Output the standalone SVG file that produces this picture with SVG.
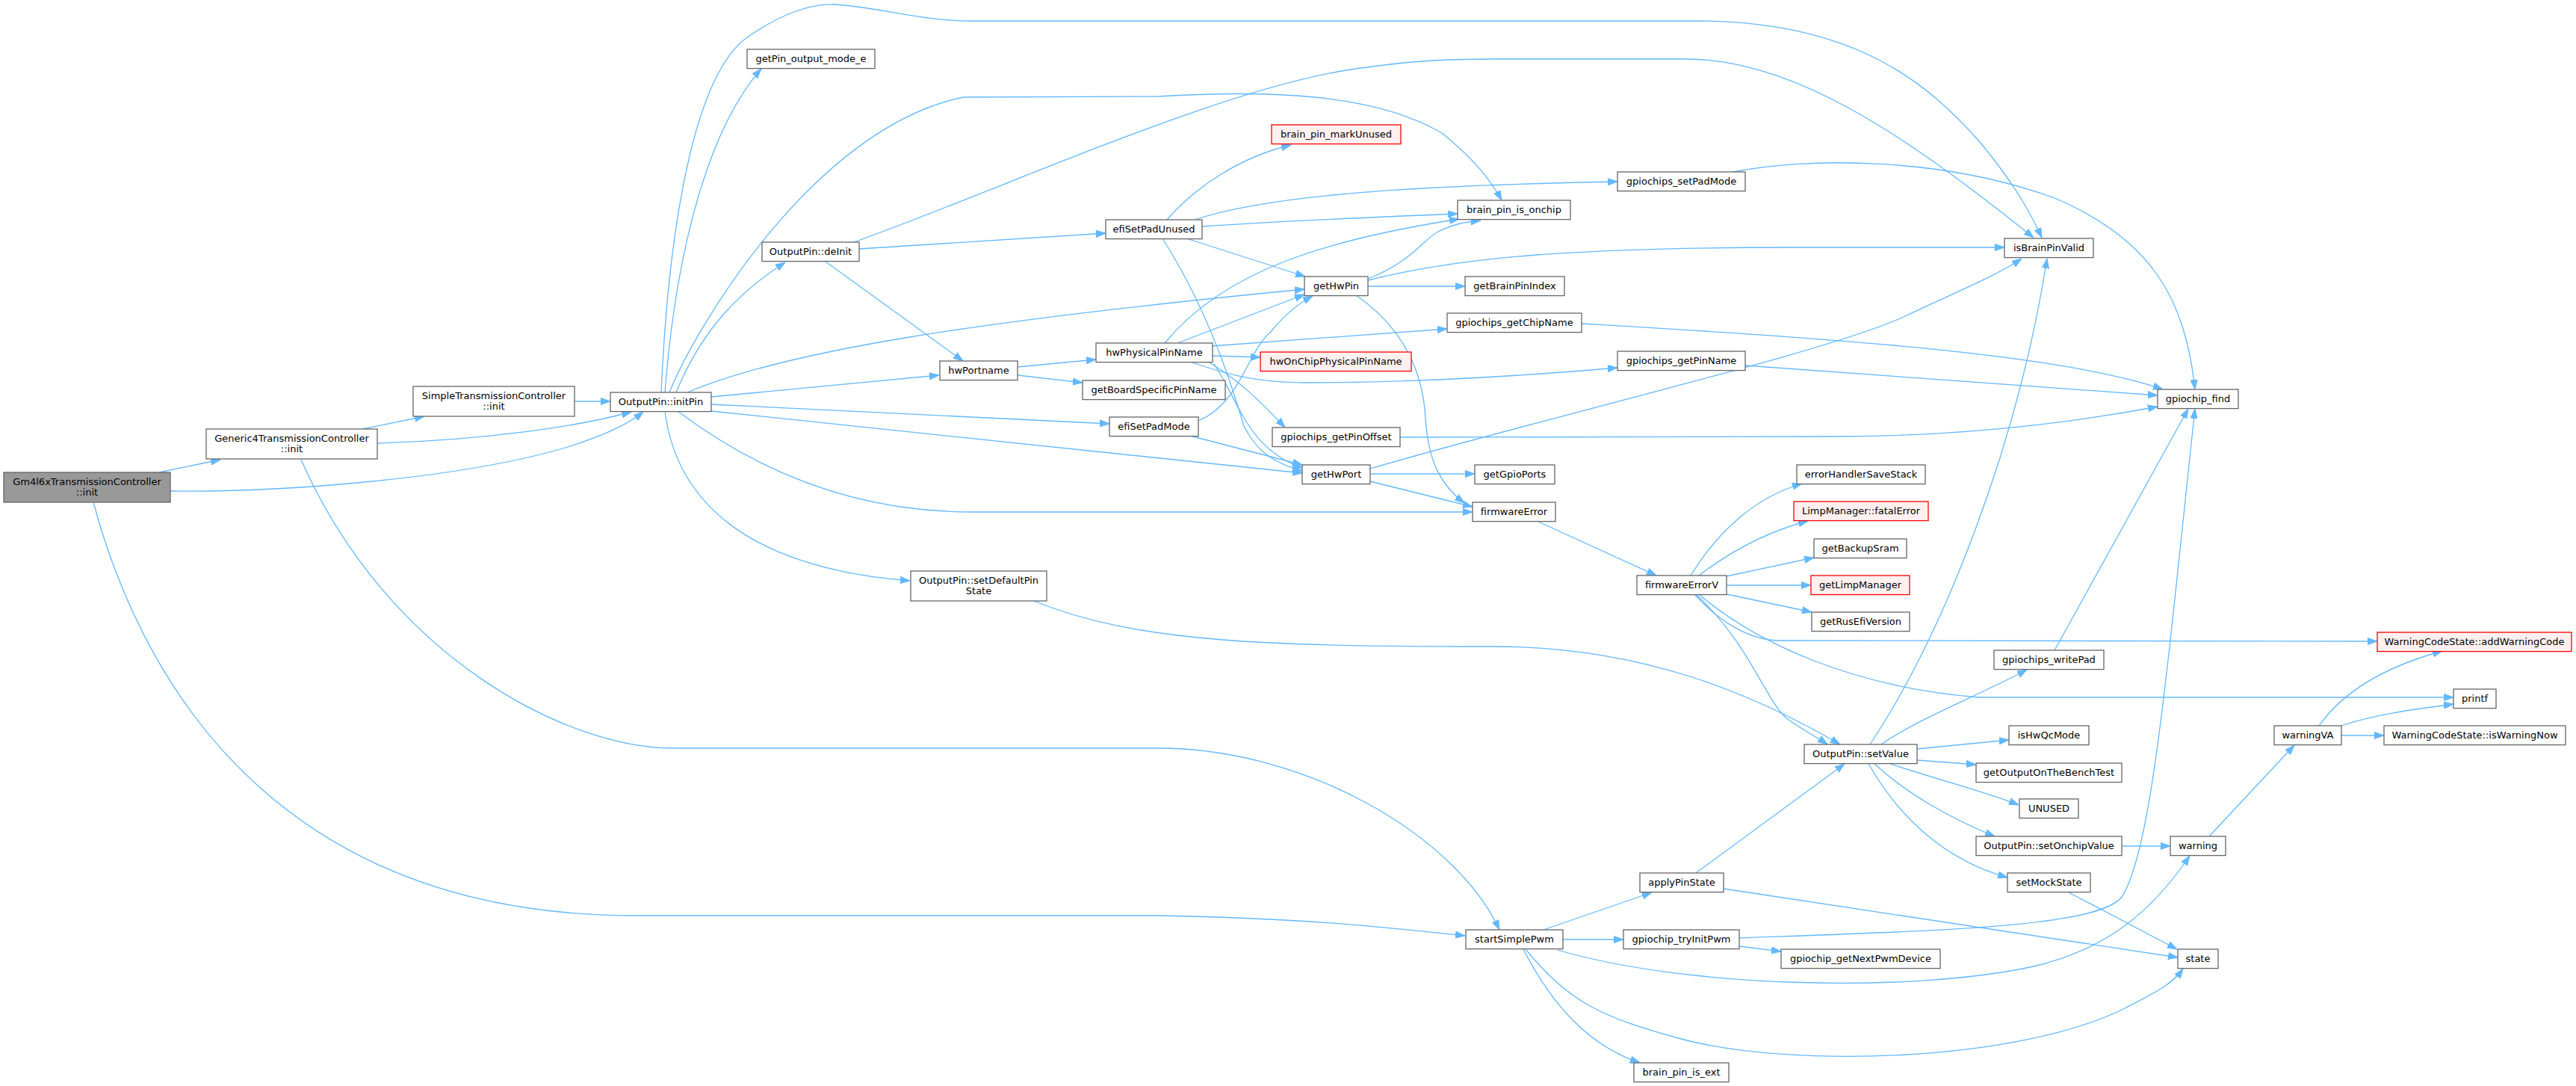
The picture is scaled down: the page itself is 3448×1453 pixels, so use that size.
<svg xmlns="http://www.w3.org/2000/svg" width="3448" height="1453" viewBox="0 0 3448 1453">
<defs>
<marker id="ah" viewBox="0 0 13 10" refX="13" refY="5" markerWidth="13" markerHeight="10" markerUnits="userSpaceOnUse" orient="auto">
<path d="M0,0.4 L13,5 L0,9.6 z" fill="#63b8ff" stroke="#63b8ff" stroke-width="1"/>
</marker>
</defs>
<style>
.n rect{fill:#ffffff;stroke:#666666;stroke-width:1.3}
.n.r rect{fill:#fff0f0;stroke:#ff0000}
.n.g rect{fill:#999999}
text{font-family:"DejaVu Sans","Noto Sans",sans-serif;font-size:13px;text-anchor:middle;fill:#000000}
#edges path{fill:none;stroke:#63b8ff;stroke-width:1.3;marker-end:url(#ah)}
</style>
<rect x="0" y="0" width="3448" height="1453" fill="#ffffff"/>
<g id="edges">
<path d="M213,632 L295,615"/>
<path d="M228,657 C380,659 620,640 760,598 C810,582 840,568 861,551"/>
<path d="M125,672 C200,950 400,1225 850,1225 L1550,1225 C1750,1229 1850,1240 1961,1252"/>
<path d="M485,574 L568,557"/>
<path d="M505,593 C640,589 770,572 845,551"/>
<path d="M403,615 C520,880 760,1001 900,1001 L1550,1001 C1750,1001 1950,1120 2007,1244"/>
<path d="M769,537 L817,537"/>
<path d="M885,525 C895,300 930,100 1000,50 C1050,15 1090,5 1115,6 C1170,8 1230,28 1300,28 L2270,28 C2480,28 2580,110 2650,190 C2700,250 2720,290 2733,318"/>
<path d="M890,525 C905,330 950,170 1019,92"/>
<path d="M896,525 C930,440 1090,170 1290,130 L1550,129 C1700,120 1840,125 1930,178 C1970,210 1995,240 2010,268"/>
<path d="M905,525 C940,440 990,390 1051,351"/>
<path d="M920,525 C1050,470 1300,430 1746,387"/>
<path d="M952,531 L1257,502"/>
<path d="M952,541 L1485,567"/>
<path d="M952,550 L1743,633"/>
<path d="M907,550 C1000,620 1130,685 1300,685 L1971,685"/>
<path d="M890,550 C905,670 1000,760 1218,777"/>
<path d="M1143,324 C1350,250 1650,110 1830,90 C1900,80 1950,79 2000,79 L2257,79 C2400,79 2550,180 2722,318"/>
<path d="M1150,333 L1480,312"/>
<path d="M1105,350 L1289,483"/>
<path d="M1562,294 C1600,250 1660,210 1728,194"/>
<path d="M1599,294 C1700,260 1900,248 2165,243"/>
<path d="M1609,303 C1700,297 1850,290 1951,286"/>
<path d="M1588,319 L1747,370"/>
<path d="M1556,319 C1620,420 1650,520 1665,570 C1680,600 1700,618 1743,630"/>
<path d="M1362,491 L1467,481"/>
<path d="M1362,502 L1449,512"/>
<path d="M1576,459 L1746,394"/>
<path d="M1559,459 C1640,360 1780,320 1953,293"/>
<path d="M1622,463 L1937,440"/>
<path d="M1623,476 L1687,478"/>
<path d="M1596,485 C1640,500 1680,512 1750,512 C1900,512 2050,502 2165,492"/>
<path d="M1619,485 C1660,510 1690,540 1720,572"/>
<path d="M1625,487 C1660,540 1670,600 1743,626"/>
<path d="M1593,583 L1743,622"/>
<path d="M1604,563 C1660,540 1670,470 1700,445 C1720,420 1740,405 1757,396"/>
<path d="M1831,373 C1890,350 1905,320 1925,310 C1945,300 1960,297 1982,295"/>
<path d="M1831,375 C1950,345 2100,331 2400,331 L2683,331"/>
<path d="M1831,383 L1961,383"/>
<path d="M1815,395 C1880,440 1905,500 1908,560 C1912,620 1930,650 1960,673"/>
<path d="M1834,627 C2100,550 2450,470 2550,423 C2620,390 2670,370 2706,346"/>
<path d="M1834,634 L1974,634"/>
<path d="M1834,644 L1971,678"/>
<path d="M2059,698 L2217,770"/>
<path d="M2263,770 C2300,710 2350,665 2412,647"/>
<path d="M2274,770 C2320,735 2370,710 2420,697"/>
<path d="M2311,771 L2428,746"/>
<path d="M2311,783 L2424,783"/>
<path d="M2311,795 L2425,819"/>
<path d="M2268,795 C2300,830 2340,857 2383,857 L3182,858"/>
<path d="M2274,795 C2350,860 2480,920 2650,933 L3284,933"/>
<path d="M2270,795 C2340,860 2360,930 2390,960 C2410,975 2430,985 2446,996"/>
<path d="M1384,804 C1520,860 1700,865 2000,865 C2200,865 2350,930 2463,996"/>
<path d="M2503,996 C2600,850 2700,600 2740,346"/>
<path d="M2518,996 C2570,960 2650,930 2713,896"/>
<path d="M2566,1002 L2689,990"/>
<path d="M2566,1017 L2645,1023"/>
<path d="M2530,1022 C2600,1045 2660,1060 2702,1077"/>
<path d="M2509,1022 C2550,1060 2610,1095 2670,1119"/>
<path d="M2501,1022 C2540,1090 2600,1150 2687,1174"/>
<path d="M2840,1132 L2905,1132"/>
<path d="M2769,1194 L2914,1270"/>
<path d="M2270,1168 L2469,1022"/>
<path d="M2307,1189 L2915,1281"/>
<path d="M2066,1244 L2211,1194"/>
<path d="M2092,1257 L2173,1257"/>
<path d="M2085,1271 C2250,1320 2550,1330 2722,1293 C2820,1270 2880,1220 2931,1145"/>
<path d="M2042,1270 C2100,1340 2140,1360 2250,1390 C2400,1430 2700,1420 2842,1350 C2880,1330 2905,1320 2922,1296"/>
<path d="M2039,1270 C2080,1350 2130,1400 2195,1422"/>
<path d="M2328,1255 C2600,1245 2810,1240 2840,1200 C2880,1140 2900,900 2938,547"/>
<path d="M2328,1266 L2384,1273"/>
<path d="M2750,870 L2929,547"/>
<path d="M2320,230 C2420,210 2600,210 2750,265 C2880,320 2925,400 2938,521"/>
<path d="M2117,433 C2400,450 2750,470 2895,521"/>
<path d="M2336,489 L2888,529"/>
<path d="M1874,585 L2450,584 C2600,584 2750,570 2888,544"/>
<path d="M2957,1119 L3071,997"/>
<path d="M3134,984 L3191,984"/>
<path d="M3104,971 C3140,920 3200,890 3269,871"/>
<path d="M3134,971 C3180,955 3240,948 3284,942"/>
</g>
<g id="n_gm4l6x" class="n g"><rect x="5" y="632" width="223" height="40"/><text x="116.5" y="648.5">Gm4l6xTransmissionController</text><text x="116.5" y="663">::init</text></g>
<g id="n_generic4" class="n"><rect x="276" y="574" width="229" height="40"/><text x="390.5" y="590.5">Generic4TransmissionController</text><text x="390.5" y="605">::init</text></g>
<g id="n_simpletc" class="n"><rect x="553" y="517" width="216" height="40"/><text x="661" y="533.5">SimpleTransmissionController</text><text x="661" y="548">::init</text></g>
<g id="n_initpin" class="n"><rect x="817" y="525" width="135" height="25.6"/><text x="884.5" y="541.5">OutputPin::initPin</text></g>
<g id="n_getpinoutput" class="n"><rect x="1000" y="66" width="171" height="25.6"/><text x="1085.5" y="82.5">getPin_output_mode_e</text></g>
<g id="n_deinit" class="n"><rect x="1020" y="324" width="130" height="25.6"/><text x="1085" y="340.5">OutputPin::deInit</text></g>
<g id="n_setdefault" class="n"><rect x="1219" y="764" width="182" height="40"/><text x="1310" y="780.5">OutputPin::setDefaultPin</text><text x="1310" y="795">State</text></g>
<g id="n_hwportname" class="n"><rect x="1258" y="483" width="104" height="25.6"/><text x="1310" y="499.5">hwPortname</text></g>
<g id="n_efisetpadunused" class="n"><rect x="1480" y="294" width="129" height="25.6"/><text x="1544.5" y="310.5">efiSetPadUnused</text></g>
<g id="n_hwphysical" class="n"><rect x="1467" y="459" width="156" height="25.6"/><text x="1545" y="475.5">hwPhysicalPinName</text></g>
<g id="n_boardspecific" class="n"><rect x="1449" y="509" width="191" height="25.6"/><text x="1544.5" y="525.5">getBoardSpecificPinName</text></g>
<g id="n_efisetpadmode" class="n"><rect x="1485" y="558" width="119" height="25.6"/><text x="1544.5" y="574.5">efiSetPadMode</text></g>
<g id="n_markunused" class="n r"><rect x="1702" y="167" width="173" height="25.6"/><text x="1788.5" y="183.5">brain_pin_markUnused</text></g>
<g id="n_gethwpin" class="n"><rect x="1746" y="370" width="85" height="25.6"/><text x="1788.5" y="386.5">getHwPin</text></g>
<g id="n_hwonchip" class="n r"><rect x="1687" y="471" width="202" height="25.6"/><text x="1788" y="487.5">hwOnChipPhysicalPinName</text></g>
<g id="n_getpinoffset" class="n"><rect x="1703" y="572" width="171" height="25.6"/><text x="1788.5" y="588.5">gpiochips_getPinOffset</text></g>
<g id="n_gethwport" class="n"><rect x="1743" y="622" width="91" height="25.6"/><text x="1788.5" y="638.5">getHwPort</text></g>
<g id="n_isonchip" class="n"><rect x="1951" y="268" width="151" height="25.6"/><text x="2026.5" y="284.5">brain_pin_is_onchip</text></g>
<g id="n_getbrainpinindex" class="n"><rect x="1961" y="370" width="133" height="25.6"/><text x="2027.5" y="386.5">getBrainPinIndex</text></g>
<g id="n_getchipname" class="n"><rect x="1937" y="419" width="180" height="25.6"/><text x="2027" y="435.5">gpiochips_getChipName</text></g>
<g id="n_getgpioports" class="n"><rect x="1974" y="622" width="107" height="25.6"/><text x="2027.5" y="638.5">getGpioPorts</text></g>
<g id="n_firmwareerror" class="n"><rect x="1971" y="672" width="111" height="25.6"/><text x="2026.5" y="688.5">firmwareError</text></g>
<g id="n_startsimplepwm" class="n"><rect x="1962" y="1244" width="130" height="25.6"/><text x="2027" y="1260.5">startSimplePwm</text></g>
<g id="n_setpadmode" class="n"><rect x="2165" y="230" width="171" height="25.6"/><text x="2250.5" y="246.5">gpiochips_setPadMode</text></g>
<g id="n_getpinname" class="n"><rect x="2165" y="470" width="171" height="25.6"/><text x="2250.5" y="486.5">gpiochips_getPinName</text></g>
<g id="n_firmwareerrorv" class="n"><rect x="2191" y="770" width="120" height="25.6"/><text x="2251" y="786.5">firmwareErrorV</text></g>
<g id="n_applypinstate" class="n"><rect x="2195" y="1168" width="112" height="25.6"/><text x="2251" y="1184.5">applyPinState</text></g>
<g id="n_tryinitpwm" class="n"><rect x="2173" y="1244" width="155" height="25.6"/><text x="2250.5" y="1260.5">gpiochip_tryInitPwm</text></g>
<g id="n_ispinext" class="n"><rect x="2187" y="1422" width="127" height="25.6"/><text x="2250.5" y="1438.5">brain_pin_is_ext</text></g>
<g id="n_errorhandler" class="n"><rect x="2405" y="622" width="172" height="25.6"/><text x="2491" y="638.5">errorHandlerSaveStack</text></g>
<g id="n_fatalerror" class="n r"><rect x="2401" y="671" width="180" height="25.6"/><text x="2491" y="687.5">LimpManager::fatalError</text></g>
<g id="n_getbackupsram" class="n"><rect x="2428" y="721" width="124" height="25.6"/><text x="2490" y="737.5">getBackupSram</text></g>
<g id="n_getlimpmanager" class="n r"><rect x="2424" y="770" width="132" height="25.6"/><text x="2490" y="786.5">getLimpManager</text></g>
<g id="n_getrusefiversion" class="n"><rect x="2425" y="819" width="131" height="25.6"/><text x="2490.5" y="835.5">getRusEfiVersion</text></g>
<g id="n_setvalue" class="n"><rect x="2415" y="996" width="151" height="25.6"/><text x="2490.5" y="1012.5">OutputPin::setValue</text></g>
<g id="n_nextpwmdevice" class="n"><rect x="2384" y="1270" width="213" height="25.6"/><text x="2490.5" y="1286.5">gpiochip_getNextPwmDevice</text></g>
<g id="n_isbrainpinvalid" class="n"><rect x="2683" y="319" width="119" height="25.6"/><text x="2742.5" y="335.5">isBrainPinValid</text></g>
<g id="n_writepad" class="n"><rect x="2669" y="870" width="147" height="25.6"/><text x="2742.5" y="886.5">gpiochips_writePad</text></g>
<g id="n_ishwqcmode" class="n"><rect x="2689" y="971" width="107" height="25.6"/><text x="2742.5" y="987.5">isHwQcMode</text></g>
<g id="n_benchtest" class="n"><rect x="2645" y="1021" width="195" height="25.6"/><text x="2742.5" y="1037.5">getOutputOnTheBenchTest</text></g>
<g id="n_unused" class="n"><rect x="2703" y="1069" width="79" height="25.6"/><text x="2742.5" y="1085.5">UNUSED</text></g>
<g id="n_setonchipvalue" class="n"><rect x="2645" y="1119" width="195" height="25.6"/><text x="2742.5" y="1135.5">OutputPin::setOnchipValue</text></g>
<g id="n_setmockstate" class="n"><rect x="2687" y="1168" width="111" height="25.6"/><text x="2742.5" y="1184.5">setMockState</text></g>
<g id="n_gpiochipfind" class="n"><rect x="2888" y="521" width="108" height="25.6"/><text x="2942" y="537.5">gpiochip_find</text></g>
<g id="n_warning" class="n"><rect x="2905" y="1119" width="74" height="25.6"/><text x="2942" y="1135.5">warning</text></g>
<g id="n_state" class="n"><rect x="2915" y="1270" width="54" height="25.6"/><text x="2942" y="1286.5">state</text></g>
<g id="n_warningva" class="n"><rect x="3044" y="971" width="90" height="25.6"/><text x="3089" y="987.5">warningVA</text></g>
<g id="n_addwarningcode" class="n r"><rect x="3182" y="846" width="260" height="25.6"/><text x="3312" y="862.5">WarningCodeState::addWarningCode</text></g>
<g id="n_printf" class="n"><rect x="3284" y="922" width="57" height="25.6"/><text x="3312.5" y="938.5">printf</text></g>
<g id="n_iswarningnow" class="n"><rect x="3191" y="971" width="243" height="25.6"/><text x="3312.5" y="987.5">WarningCodeState::isWarningNow</text></g>
</svg>
